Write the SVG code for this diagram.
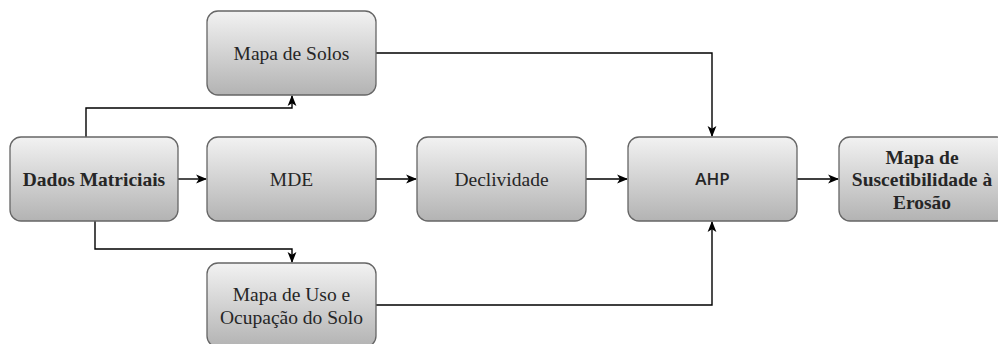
<svg xmlns="http://www.w3.org/2000/svg" width="998" height="344" viewBox="0 0 998 344">
<style>
.box{fill:url(#g);stroke:#666;stroke-width:1.3}
.t{font-family:"Liberation Serif","Times New Roman",serif;font-size:19.5px;fill:#262626;text-anchor:middle}
.b{font-weight:bold}
.s{font-family:"Open Sans","Liberation Sans",sans-serif;font-size:17px;font-weight:600;fill:#262626;text-anchor:middle}
.c{fill:none;stroke:#000;stroke-width:1.4;marker-end:url(#a)}
</style>
<defs>
<linearGradient id="g" x1="0" y1="0" x2="0" y2="1">
<stop offset="0" stop-color="#f2f2f2"/>
<stop offset="1" stop-color="#b3b3b3"/>
</linearGradient>
<marker id="a" viewBox="0 0 10 10" refX="9" refY="5" markerWidth="11" markerHeight="11" markerUnits="userSpaceOnUse" orient="auto">
<path d="M0,1 L10,5 L0,9 L2.5,5 Z" fill="#000"/>
</marker>
</defs>
<g id="connectors">
<path class="c" d="M86,137 V108 H292 V96"/>
<path class="c" d="M178,179 H206"/>
<path class="c" d="M95,221 V249 H292 V262"/>
<path class="c" d="M376,179 H416"/>
<path class="c" d="M586,179 H627"/>
<path class="c" d="M376,53 H712 V136"/>
<path class="c" d="M376,305 H712 V222"/>
<path class="c" d="M797,179 H838"/>
</g>
<g id="dados"><rect class="box" x="10" y="137" width="168" height="84" rx="11"/><text class="t b" x="94" y="186">Dados Matriciais</text></g>
<g id="solos"><rect class="box" x="207" y="11" width="169" height="84" rx="11"/><text class="t" x="291.5" y="60">Mapa de Solos</text></g>
<g id="mde"><rect class="box" x="207" y="137" width="169" height="84" rx="11"/><text class="t" x="291.5" y="186">MDE</text></g>
<g id="uso"><rect class="box" x="207" y="263" width="169" height="84" rx="11"/><text class="t" x="291.5" y="301">Mapa de Uso e</text><text class="t" x="291.5" y="324">Ocupação do Solo</text></g>
<g id="declividade"><rect class="box" x="417" y="137" width="169" height="84" rx="11"/><text class="t" x="501.5" y="186">Declividade</text></g>
<g id="ahp"><rect class="box" x="628" y="137" width="169" height="84" rx="11"/><text class="s" x="712.5" y="185">AHP</text></g>
<g id="suscetibilidade"><rect class="box" x="839" y="137" width="169" height="84" rx="11"/><text class="t b" x="922" y="164">Mapa de</text><text class="t b" x="922" y="186">Suscetibilidade à</text><text class="t b" x="922" y="209">Erosão</text></g>
</svg>
